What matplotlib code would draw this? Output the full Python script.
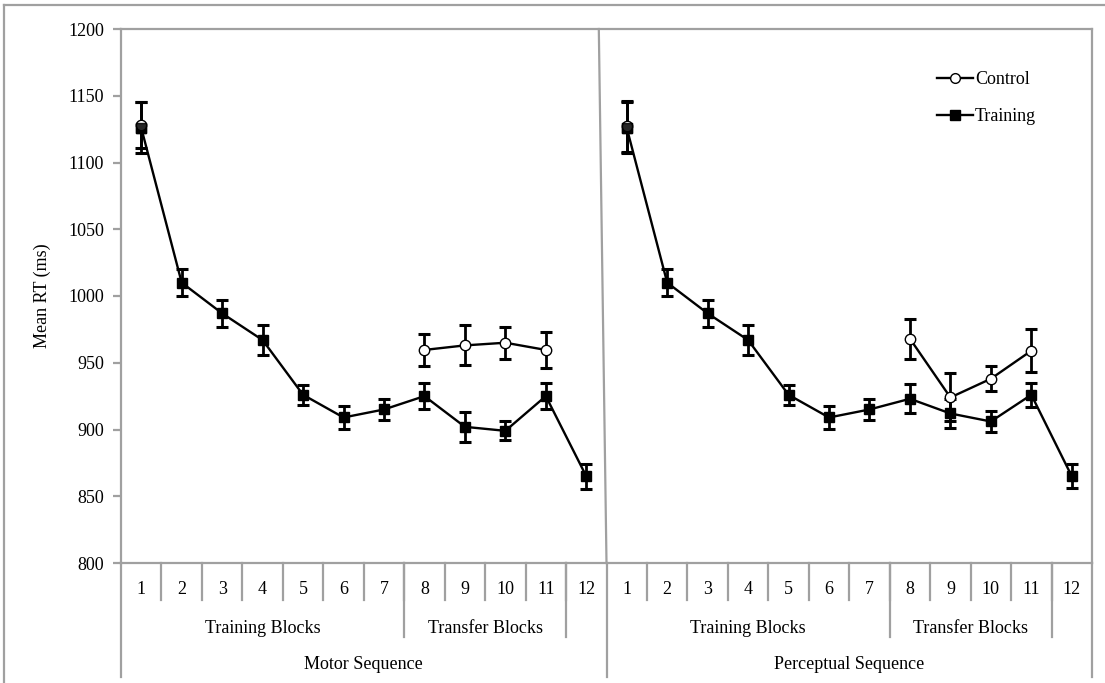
import numpy as np
import matplotlib
matplotlib.use("Agg")
import matplotlib.pyplot as plt
from matplotlib.lines import Line2D
from matplotlib.transforms import blended_transform_factory

plt.rcParams['font.family'] = ['Liberation Serif', 'DejaVu Serif']

# ---------------- data ----------------
blocks = [str(i) for i in range(1, 13)]
block_groups = ["Training Blocks", "Transfer Blocks", ""]
group_spans = [(1, 7), (8, 11), (12, 12)]
sequences = ["Motor Sequence", "Perceptual Sequence"]

nan = np.nan
motor_training = [1126, 1010, 987, 967, 926, 909, 915, 925, 902, 899, 925, 865]
motor_training_err = [19, 10, 10, 11, 7.5, 8.5, 8, 9.5, 11, 7, 10, 9.5]
motor_control = [1128, nan, nan, nan, nan, nan, nan, 959.6, 963, 965, 959.6, nan]
motor_control_err = [17, nan, nan, nan, nan, nan, nan, 12, 15, 12, 13.5, nan]

perc_training = [1126, 1010, 987, 967, 926, 909, 915, 923, 912, 906, 926, 865]
perc_training_err = [19, 10, 10, 11, 7.5, 8.5, 8, 11, 11, 7.5, 9, 9]
perc_control = [1127, nan, nan, nan, nan, nan, nan, 968, 924, 938, 959, nan]
perc_control_err = [19, nan, nan, nan, nan, nan, nan, 15, 18, 9.5, 16, nan]

yticks = [800, 850, 900, 950, 1000, 1050, 1100, 1150, 1200]

# ---------------- figure ----------------
W, H = 1105, 683
fig = plt.figure(figsize=(W / 100, H / 100), dpi=100)
L, R, T, B = 121, 1092, 29, 563
ax = fig.add_axes([L / W, 1 - B / H, (R - L) / W, (B - T) / H])

GRAY = '#a0a0a0'
FS = 13

def fy(py):
    return 1 - py / H

n = len(blocks)
series = [
    (motor_control, motor_control_err, motor_training, motor_training_err),
    (perc_control, perc_control_err, perc_training, perc_training_err),
]
for p, (ctl, ctl_e, trn, trn_e) in enumerate(series):
    x = np.arange(1, n + 1) + p * n
    ax.errorbar(x, trn, yerr=trn_e, fmt='none', ecolor='black', elinewidth=2.0,
                capsize=4.0, capthick=2.2, zorder=3)
    ax.plot(x, trn, color='black', lw=1.7, marker='s', markersize=7,
            markerfacecolor='black', markeredgecolor='black', zorder=4)
    ax.errorbar(x, ctl, yerr=ctl_e, fmt='none', ecolor='black', elinewidth=2.0,
                capsize=4.0, capthick=2.2, zorder=5)
    ax.plot(x, ctl, color='black', lw=1.7, marker='o', markersize=7.5,
            markerfacecolor='white', markeredgecolor='black', markeredgewidth=1.0,
            zorder=6)
    # keep the training square dominant where both groups coincide
    ax.plot(x[:1], trn[:1], linestyle='none', marker='s', markersize=7,
            markerfacecolor='black', markeredgecolor='black', alpha=0.85, zorder=7)

ax.set_xlim(0.5, 2 * n + 0.5)
ax.set_ylim(800, 1200)
ax.set_yticks(yticks)
ax.set_yticklabels([str(v) for v in yticks], fontsize=FS)
ax.set_xticks([])
for s in ax.spines.values():
    s.set_color(GRAY)
    s.set_linewidth(1.6)
ax.tick_params(axis='y', length=5.8, width=1.6, color=GRAY, pad=6.5, labelcolor='black')

# slanted divider between panels
ax.plot([n + 0.31, n + 0.5], [1200, 800], color=GRAY, lw=1.6, zorder=2, clip_on=False)

# ---------------- hierarchical category axis ----------------
tr = blended_transform_factory(ax.transData, fig.transFigure)
def vline(x, py0, py1):
    ax.add_line(Line2D([x, x], [fy(py0), fy(py1)], transform=tr, color=GRAY,
                       lw=1.6, clip_on=False))

for p in range(2):
    off = p * n
    for k in range(1, n):
        vline(off + k + 0.5, B, 600)
    for i, lab in enumerate(blocks):
        ax.text(off + i + 1, fy(589.5), lab, transform=tr, ha='center', va='center', fontsize=FS)
    for (a, b), g in zip(group_spans, block_groups):
        if b < n:
            vline(off + b + 0.5, B, 637)
        if g:
            ax.text(off + (a + b) / 2, fy(628.5), g, transform=tr, ha='center', va='center', fontsize=FS)
    ax.text(off + (n + 1) / 2, fy(664.5), sequences[p], transform=tr, ha='center', va='center', fontsize=FS)
for xb in [0.5, n + 0.5, 2 * n + 0.5]:
    vline(xb, B, 677)

# y label
fig.text(42 / W, fy(296), "Mean RT (ms)", rotation=90, ha='center', va='center', fontsize=FS)

# legend
handles = [
    Line2D([], [], color='black', lw=1.7, marker='o', markersize=7,
           markerfacecolor='white', markeredgecolor='black', markeredgewidth=1.0),
    Line2D([], [], color='black', lw=1.7, marker='s', markersize=6.5,
           markerfacecolor='black', markeredgecolor='black'),
]
leg = fig.legend(handles, ["Control", "Training"], loc='upper left',
                 bbox_to_anchor=(937 / W, fy(71)), bbox_transform=fig.transFigure,
                 frameon=False, fontsize=FS, handlelength=2.0, handletextpad=0.1,
                 labelspacing=1.1, borderpad=0, borderaxespad=0)

# outer chart frame
fig.add_artist(Line2D([4 / W, 1], [fy(5), fy(5)], transform=fig.transFigure, color=GRAY, lw=1.6))
fig.add_artist(Line2D([4 / W, 4 / W], [fy(5), 0], transform=fig.transFigure, color=GRAY, lw=1.6))

fig.savefig("out.png", dpi=100)
